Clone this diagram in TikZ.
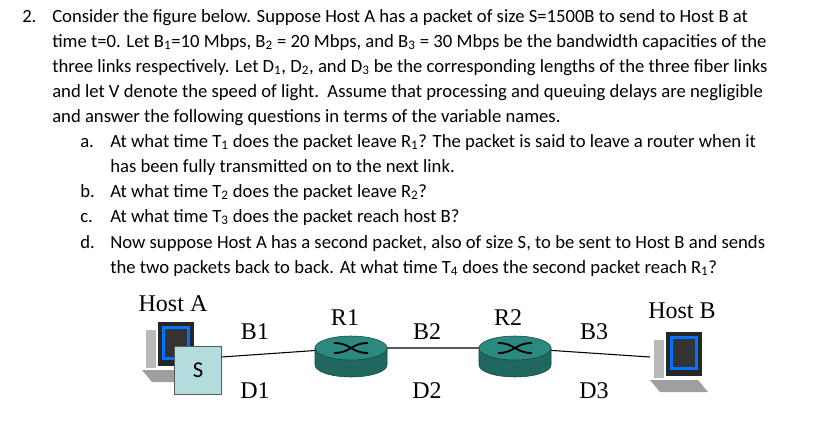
\documentclass[tikz,border=0pt]{standalone}
\usepackage{fontspec}
\setmainfont{Carlito}
\newfontfamily\figfont{Liberation Serif}
\definecolor{routerteal}{HTML}{2A8A80}
\definecolor{packetblue}{HTML}{B4DCDE}
\tikzset{
  qline/.style={anchor=base west, inner sep=0pt, font=\fontsize{14pt}{16pt}\selectfont},
  figlabel/.style={anchor=base, inner sep=0pt, font=\figfont\fontsize{18pt}{20pt}\selectfont},
}
\newcommand{\sub}[1]{\textsubscript{#1}}
\newcommand{\routerdraw}[1]{%
  \filldraw[fill=routerteal!75!black, draw=routerteal!50!black] ($(#1)+(-36,0)$) -- ($(#1)+(-36,17)$) arc[start angle=180,end angle=360,x radius=36,y radius=-12] -- ($(#1)+(36,0)$) -- cycle;
  \filldraw[fill=routerteal, draw=routerteal!50!black] (#1) ellipse[x radius=36, y radius=12];
  \draw[black, line width=1.4pt] ($(#1)+(-17,-5)$) .. controls ($(#1)+(0,-5)$) and ($(#1)+(0,5)$) .. ($(#1)+(17,5)$);
  \draw[black, line width=1.4pt] ($(#1)+(-17,5)$) .. controls ($(#1)+(0,5)$) and ($(#1)+(0,-5)$) .. ($(#1)+(17,-5)$);
}
\newcommand{\pcdraw}[1]{%
  \fill[gray!75] ($(#1)+(-34,30)$) -- ($(#1)+(14,30)$) -- ($(#1)+(24,42)$) -- ($(#1)+(-24,42)$) -- cycle;
  \fill[gray!55] ($(#1)+(-30,-10)$) rectangle ($(#1)+(-20,28)$);
  \fill[black!85] ($(#1)+(-18,-18)$) rectangle ($(#1)+(18,26)$);
  \fill[blue!55!cyan] ($(#1)+(-14,-14)$) rectangle ($(#1)+(14,20)$);
  \fill[black!80] ($(#1)+(-11,-11)$) rectangle ($(#1)+(11,17)$);
}
\usetikzlibrary{calc}
\begin{document}
\begin{tikzpicture}[x=0.75pt, y=-0.75pt]
  \useasboundingbox (0,0) rectangle (825,432);
  % question text
  \node[qline] (n2) at (22,22) {2.};
  \node[qline] (l1) at (52,22) {Consider the figure below. Suppose Host A has a packet of size S=1500B to send to Host B at};
  \node[qline] (l2) at (52,47) {time t=0. Let B\sub{1}=10 Mbps, B\sub{2} = 20 Mbps, and B\sub{3} = 30 Mbps be the bandwidth capacities of the};
  \node[qline] (l3) at (52,72) {three links respectively. Let D\sub{1}, D\sub{2}, and D\sub{3} be the corresponding lengths of the three fiber links};
  \node[qline] (l4) at (52,97) {and let V denote the speed of light.\ \ Assume that processing and queuing delays are negligible};
  \node[qline] (l5) at (52,122) {and answer the following questions in terms of the variable names.};
  \node[qline] (la) at (80,147) {a.};
  \node[qline] (l6) at (110,147) {At what time T\sub{1} does the packet leave R\sub{1}? The packet is said to leave a router when it};
  \node[qline] (l7) at (110,172) {has been fully transmitted on to the next link.};
  \node[qline] (lb) at (80,197) {b.};
  \node[qline] (l8) at (110,197) {At what time T\sub{2} does the packet leave R\sub{2}?};
  \node[qline] (lc) at (80,222) {c.};
  \node[qline] (l9) at (110,222) {At what time T\sub{3} does the packet reach host B?};
  \node[qline] (ld) at (80,248) {d.};
  \node[qline] (l10) at (110,248) {Now suppose Host A has a second packet, also of size S, to be sent to Host B and sends};
  \node[qline] (l11) at (110,273) {the two packets back to back. At what time T\sub{4} does the second packet reach R\sub{1}?};
  % network
  \coordinate (hosta) at (176,340);
  \coordinate (hostb) at (684,350);
  \coordinate (r1) at (351,348);
  \coordinate (r2) at (515,348);
  \pcdraw{hosta}
  \pcdraw{hostb}
  \node[draw=gray!70!black, fill=packetblue, minimum width=35pt, minimum height=36pt, inner sep=0pt, font=\fontsize{17pt}{19pt}\selectfont] (pkt) at (198,370) {S};
  \draw[line width=0.8pt] (pkt.east |- 0,357) -- (r1) -- (r2) -- (650,357);
  \routerdraw{r1}
  \routerdraw{r2}
  \node[figlabel] (ha) at (173,311) {Host A};
  \node[figlabel] (hb) at (682,318) {Host B};
  \node[figlabel] (lr1) at (345,325) {R1};
  \node[figlabel] (lr2) at (508,325) {R2};
  \node[figlabel] (b1) at (255,339) {B1};
  \node[figlabel] (b2) at (427,339) {B2};
  \node[figlabel] (b3) at (594,339) {B3};
  \node[figlabel] (d1) at (255,398) {D1};
  \node[figlabel] (d2) at (427,398) {D2};
  \node[figlabel] (d3) at (594,398) {D3};
\end{tikzpicture}
\end{document}
